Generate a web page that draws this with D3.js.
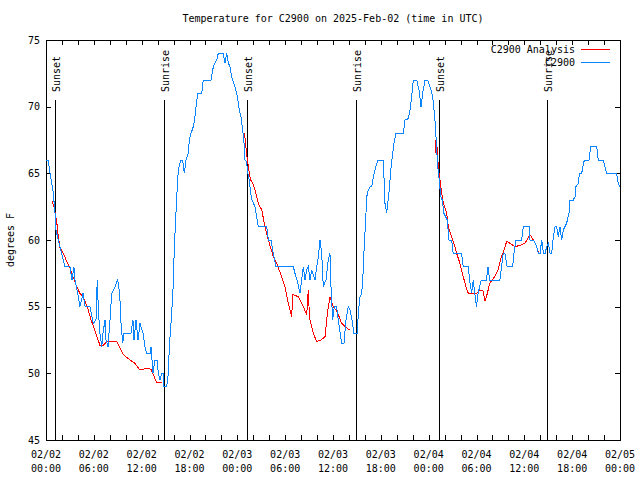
<!DOCTYPE html>
<html><head><meta charset="utf-8">
<script src="https://cdn.jsdelivr.net/npm/d3@7"></script>
<style>
body{margin:0;background:#fff}
svg text{font-family:"DejaVu Sans Mono","Liberation Mono",monospace;font-size:10px;fill:#000}
</style>
</head><body><svg id="c" width="640" height="480"></svg>
<script>
// ---- data (hours since 2025-02-02 00:00 UTC) ----
const title = "Temperature for C2900 on 2025-Feb-02 (time in UTC)";
const yLabel = "degrees F";
const seriesNames = ["C2900 Analysis", "C2900"];
const yTicks = [45, 50, 55, 60, 65, 70, 75];

const obsHours = [
  0.0,0.29,0.5,0.92,1.13,1.25,1.54,1.97,2.38,3.0,
  3.26,3.5,3.64,3.9,4.26,4.64,4.9,5.52,5.93,6.27,
  6.43,6.59,6.77,6.99,7.15,7.4,7.53,7.78,8.03,8.24,
  8.66,8.94,9.09,9.28,9.41,9.62,9.78,10.66,10.91,11.04,
  11.29,11.54,11.79,12.17,12.42,12.61,13.05,13.17,13.42,13.67,
  13.92,14.1,14.3,14.5,14.68,14.8,15.14,15.34,15.47,15.68,
  15.84,15.97,16.06,16.18,16.4,16.6,16.9,17.12,17.25,17.35,
  17.56,17.85,17.98,18.19,18.48,18.63,18.82,19.03,19.53,19.73,
  20.7,20.99,21.41,21.61,22.24,22.45,22.67,22.89,23.08,23.29,
  23.71,24.0,24.25,24.46,24.67,24.84,24.96,25.18,25.25,25.5,
  25.68,25.84,26.22,26.43,26.63,27.68,27.89,28.22,28.51,28.85,
  31.02,31.23,31.49,31.86,32.07,32.28,32.49,32.7,32.9,33.12,
  33.33,33.74,33.95,34.16,34.37,34.58,34.78,35.12,35.41,35.62,
  35.75,35.96,36.16,36.46,36.66,37.09,37.38,37.63,37.92,38.13,
  38.38,38.63,39.05,39.17,39.39,39.6,39.8,39.93,40.1,40.23,
  40.43,40.64,40.85,41.06,41.27,41.48,41.68,42.31,42.52,42.74,
  42.86,43.06,43.24,43.49,43.65,43.9,44.82,45.03,45.45,45.66,
  45.87,46.07,46.5,46.79,47.04,47.25,47.54,47.88,48.17,48.5,
  48.79,49.0,49.1,49.33,49.51,49.71,49.92,50.33,50.55,50.88,
  51.08,52.13,52.34,52.96,53.19,53.39,53.59,53.79,54.0,54.2,
  54.4,54.61,55.24,55.44,55.66,56.93,57.14,57.35,57.56,57.85,
  58.53,58.7,58.95,59.67,59.87,60.59,60.71,61.13,61.55,61.76,
  61.97,62.18,62.39,62.6,62.81,63.01,63.22,63.43,63.64,63.85,
  64.06,64.26,64.47,64.68,64.89,65.09,65.3,65.6,65.73,66.14,
  66.36,66.48,66.78,66.9,67.2,67.33,67.53,68.12,68.33,69.08,
  69.28,69.91,70.12,70.33,71.58,71.77,72.0
];
const obsTemps = [
  66,66,65,63.5,62,60.75,60,59,58,58,
  57,58,57,56.25,55,56,55,55,53.75,54,
  57,54.5,53,52,53,54,52.5,52,54,56,
  56.5,57,56.75,55.5,53.75,52.25,53,53,54,52.5,
  54,52.5,53.75,53,52,51.5,51.5,52,50,51,
  51,50,49.5,50,50,49,49,50,52,53.75,
  55.25,56.75,58.75,60.5,63.25,65.25,66,66,65.5,65,
  66,66.5,67.5,68,68.5,69,70,71,71,72,
  72,73,73.5,74,74,73.25,74,73.25,73,72.25,
  71.5,70.75,69.75,69.25,68.25,67.25,66,65.9,65.25,64.5,
  63.5,63,62.5,61.75,61,61,60,60,59,58,
  58,57.5,57,56,57,58,57,57.75,58,57,
  57.75,57,58,58.75,60,59,56.5,57,58.5,59,
  56.5,54,55,55,54,52.25,52.25,54,55,54.75,
  54,53,53,54.5,55.75,56,57.75,59.75,61.5,63.25,
  63.75,64,64,64.75,65.25,65.75,66,66,62.75,62,
  62.75,63.75,65.25,66.5,67.25,68,68,69,69.1,69.75,
  70.75,72,72,71.25,70,71,72,72,71.5,70.75,
  69,67,65.75,64.5,63.25,63,62,61.5,60,60,
  59,59,58,58,56.75,56,57,56,55,56,
  56.5,57,57,58,57,57,58,59,59,58,
  58,59,60,60,61,61,60,60,59.5,59,
  59,60,59,59,59.5,59.75,59,59,60.25,61,
  61,60.25,61,60,60.75,61,61.25,62,63,63,
  63.25,64,64.25,65,65,65.5,66,66,67,67,
  66,66,65.5,65,65,64.25,64
];

// analysis series: null marks a gap
const anaHours = [
  0.79,1.0,1.34,1.5,1.76,2.17,2.6,3.01,3.42,3.85,4.26,4.68,5.02,5.31,5.64,5.93,6.36,6.77,7.19,7.53,7.81,8.87,9.28,9.7,10.12,10.54,11.16,11.79,12.83,13.17,13.46,13.89,14.51,
  null,
  24.75,24.9,25.18,25.5,25.68,25.97,26.22,26.63,27.06,27.47,27.89,28.51,28.93,29.56,29.98,30.39,30.82,30.95,31.65,32.28,32.7,32.9,33.05,33.53,33.95,34.5,35.0,35.29,35.62,36.04,36.46,37.09,37.72,38.05,
  null,
  48.8,48.92,49.08,49.2,49.42,49.63,49.84,50.26,50.46,50.88,51.17,51.51,51.92,52.34,52.68,52.97,54.02,54.43,54.78,55.07,55.36,55.66,56.28,56.7,57.0,57.45,57.79,58.2,58.83,59.46,60.08,60.71,61.13,61.55,61.76
];
const anaTemps = [
  62.9,62.5,61.4,60.5,59.4,59,58.4,57.9,57.2,56.5,56,55.7,55.2,54.75,54,53.6,52.8,52.1,52.1,52.3,52.4,52.4,51.9,51.4,51.2,51,50.75,50.25,50.4,50.3,49.9,49.3,49.3,
  null,
  67.9,68,66.4,65,64.5,64.2,63.75,62.75,62.25,61,60,58.75,58.25,57.25,56.5,55.25,54.25,55.9,55.75,55,54.4,56.25,54.2,53,52.4,52.5,52.75,54.5,55.75,55,54.7,53.75,53.4,53.25,
  null,
  67.5,66.5,67,65.5,64.5,63.5,62.75,62,61,60.25,59.75,59,58.25,57.25,56.5,56,56,56.25,56.25,55.4,56,56.75,57.25,57.75,58.5,59.25,59.9,59.75,59.5,59.6,59.75,60.4,60,59.5,59.1
];

const sunLabels = ["Sunset","Sunrise","Sunset","Sunrise","Sunset","Sunrise"];
const sunTimes = ["2025-02-02T01:08Z","2025-02-02T14:48Z","2025-02-03T01:15Z","2025-02-03T14:51Z","2025-02-04T01:20Z","2025-02-04T14:53Z"];

// ---- drawing ----
const colors = ["#ff0000", "#0a84ff"];
const svg = d3.select("#c");
const L = 46, R = 620, T = 40, B = 440;
const t0 = Date.UTC(2025, 1, 2);
const toDate = h => new Date(t0 + h * 3600e3);
const x = d3.scaleUtc().domain([toDate(0), toDate(72)]).range([L, R]);
const y = d3.scaleLinear().domain([45, 75]).range([B, T]);

svg.append("rect").attr("width", 640).attr("height", 480).attr("fill", "#fff");

const minorTicks = d3.utcHour.every(2).range(toDate(0), toDate(72.01));
const labelTicks = d3.utcHour.every(6).range(toDate(0), toDate(72.01));
const fmtD = d3.utcFormat("%m/%d"), fmtT = d3.utcFormat("%H:%M");

function styleAxis(g) {
  g.selectAll("path,line").attr("stroke", "#000").attr("shape-rendering", "crispEdges");
  g.selectAll("text").remove();
}
svg.append("g").attr("transform", `translate(0,${B})`)
  .call(d3.axisBottom(x).tickValues(minorTicks).tickSizeInner(-5).tickSizeOuter(0)).call(styleAxis);
svg.append("g").attr("transform", `translate(0,${T})`)
  .call(d3.axisTop(x).tickValues(minorTicks).tickSizeInner(-5).tickSizeOuter(0)).call(styleAxis);
const gl = svg.append("g").attr("transform", `translate(${L},0)`)
  .call(d3.axisLeft(y).tickValues(yTicks).tickSizeInner(-5).tickSizeOuter(0).tickPadding(6));
gl.selectAll("path,line").attr("stroke", "#000").attr("shape-rendering", "crispEdges");
gl.selectAll("text").attr("fill", "#000");
gl.attr("font-family", null).attr("font-size", null);
svg.append("g").attr("transform", `translate(${R},0)`)
  .call(d3.axisRight(y).tickValues(yTicks).tickSizeInner(-5).tickSizeOuter(0)).call(styleAxis);

svg.selectAll(".xl1").data(labelTicks).join("text").attr("class", "xl1")
  .attr("x", d => x(d)).attr("y", 458).attr("text-anchor", "middle").text(fmtD);
svg.selectAll(".xl2").data(labelTicks).join("text").attr("class", "xl2")
  .attr("x", d => x(d)).attr("y", 472).attr("text-anchor", "middle").text(fmtT);

// title and y label
svg.append("text").attr("x", (L + R) / 2).attr("y", 22).attr("text-anchor", "middle").text(title);
svg.append("text").attr("transform", `translate(14,${(T + B) / 2}) rotate(-90)`)
  .attr("text-anchor", "middle").text(yLabel);

// sun lines
const sun = sunTimes.map((s, i) => ({ t: new Date(s), label: sunLabels[i] }));
svg.selectAll(".sunl").data(sun).join("line").attr("class", "sunl")
  .attr("x1", d => Math.round(x(d.t)) + 0.5).attr("x2", d => Math.round(x(d.t)) + 0.5)
  .attr("y1", 100).attr("y2", B).attr("stroke", "#000").attr("shape-rendering", "crispEdges");
svg.selectAll(".sunt").data(sun).join("text").attr("class", "sunt")
  .attr("transform", d => `translate(${Math.round(x(d.t)) + 5},92) rotate(-90)`)
  .text(d => d.label);

// data lines
const obs = obsHours.map((h, i) => ({ t: toDate(h), v: obsTemps[i] }));
const ana = anaHours.map((h, i) => ({ t: h == null ? null : toDate(h), v: anaTemps[i] }));
const line = d3.line().defined(d => d.t != null && d.v != null).x(d => x(d.t)).y(d => y(d.v));
svg.append("path").datum(ana).attr("d", line).attr("fill", "none").attr("stroke", colors[0])
  .attr("stroke-width", 1).attr("shape-rendering", "crispEdges");
svg.append("path").datum(obs).attr("d", line).attr("fill", "none").attr("stroke", colors[1])
  .attr("stroke-width", 1).attr("shape-rendering", "crispEdges");

// legend
seriesNames.forEach((n, i) => {
  const yy = 49 + i * 13;
  svg.append("text").attr("x", 575).attr("y", yy + 4).attr("text-anchor", "end").text(n);
  svg.append("line").attr("x1", 581).attr("x2", 610).attr("y1", yy + 0.5).attr("y2", yy + 0.5)
    .attr("stroke", colors[i]).attr("shape-rendering", "crispEdges");
});
</script>
</body></html>
